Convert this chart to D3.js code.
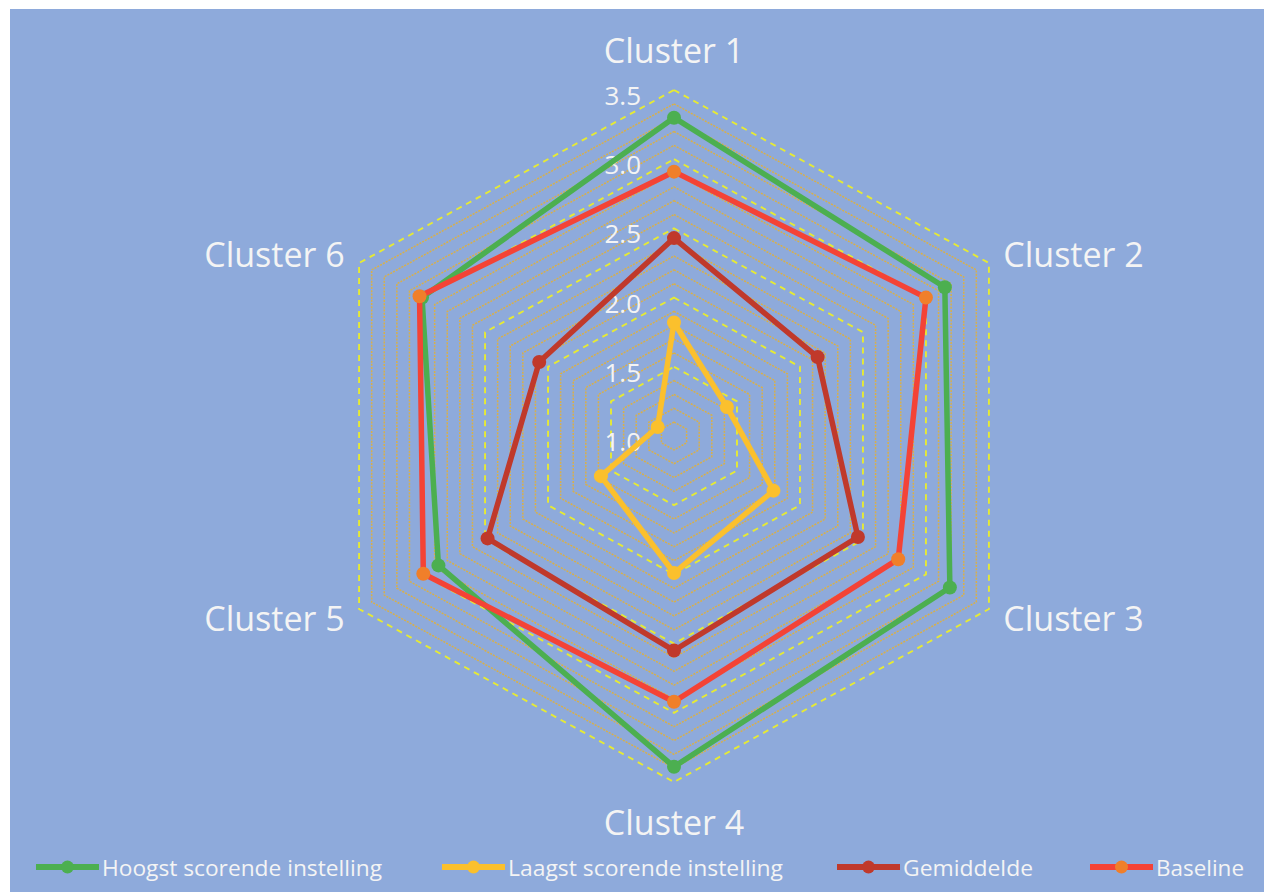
<!DOCTYPE html>
<html><head><meta charset="utf-8">
<script src="https://cdn.jsdelivr.net/npm/d3@7/dist/d3.min.js"></script>
<style>html,body{margin:0;padding:0;background:#fff;}svg{display:block;}</style>
</head><body>
<svg id="chart" width="1264" height="892"></svg>
<script>
const categories = ["Cluster 1", "Cluster 2", "Cluster 3", "Cluster 4", "Cluster 5", "Cluster 6"];
const seriesNames = ["Hoogst scorende instelling", "Laagst scorende instelling", "Gemiddelde", "Baseline"];
const hoogst     = [3.30, 3.15, 3.19, 3.39, 2.87, 3.00];
const laagst     = [1.82, 1.42, 1.79, 1.99, 1.58, 1.13];
const gemiddelde = [2.43, 2.14, 2.46, 2.55, 2.48, 2.07];
const baseline   = [2.91, 3.00, 2.78, 2.92, 2.99, 3.02];
const tickLabels = ["1.0", "1.5", "2.0", "2.5", "3.0", "3.5"];
const axisMin = 1.0, axisMax = 3.5, minorStep = 0.1;

const series = [
  {name: seriesNames[0], values: hoogst,     line: "#4caf50", marker: "#4caf50"},
  {name: seriesNames[1], values: laagst,     line: "#fbc02d", marker: "#fbc02d"},
  {name: seriesNames[2], values: gemiddelde, line: "#c0392b", marker: "#c0392b"},
  {name: seriesNames[3], values: baseline,   line: "#f44336", marker: "#f07f2a"}
];

const svg = d3.select("#chart");
svg.append("rect").attr("x", 10).attr("y", 9).attr("width", 1254).attr("height", 883).attr("fill", "#8eaadb");

const cx = 674, cy = 436, xs = 1.051;
const r = d3.scaleLinear().domain([axisMin, axisMax]).range([0, 346]);
const angle = d3.scalePoint().domain(d3.range(categories.length)).range([0, 2 * Math.PI * (categories.length - 1) / categories.length]);
function pt(i, v) {
  const a = angle(i), rr = r(v);
  return [cx + xs * rr * Math.sin(a), cy - rr * Math.cos(a)];
}
const line = d3.line().curve(d3.curveLinearClosed);

const g = svg.append("g");
// minor grid
const majors = tickLabels.map(Number);
const minors = d3.range(axisMin + minorStep, axisMax, minorStep).map(v => +v.toFixed(2)).filter(v => !majors.some(m => Math.abs(m - v) < 1e-6));
g.selectAll(".minor").data(minors).join("path")
  .attr("d", v => line(categories.map((c, i) => pt(i, v))))
  .attr("fill", "none").attr("stroke", "#d9b04a").attr("stroke-width", 1.5).attr("stroke-dasharray", "2,1.2");
// major grid
g.selectAll(".major").data(majors.filter(v => v > axisMin)).join("path")
  .attr("d", v => line(categories.map((c, i) => pt(i, v))))
  .attr("fill", "none").attr("stroke", "#e6ea34").attr("stroke-width", 1.9).attr("stroke-dasharray", "6,5");

// tick labels
g.selectAll(".tick").data(tickLabels).join("text")
  .attr("x", cx - 33).attr("y", d => cy - r(+d) + 5)
  .attr("text-anchor", "end").attr("dominant-baseline", "central")
  .attr("font-family", "Open Sans, sans-serif").attr("font-size", 26)
  .attr("fill", "#f4f4f4").text(d => d);

// series
series.forEach(s => {
  const pts = s.values.map((v, i) => pt(i, v));
  g.append("path").attr("d", line(pts)).attr("fill", "none")
    .attr("stroke", s.line).attr("stroke-width", 5.5).attr("stroke-linejoin", "round");
  g.selectAll(null).data(pts).join("circle")
    .attr("cx", d => d[0]).attr("cy", d => d[1]).attr("r", 7).attr("fill", s.marker);
});

// category labels
const lblR = r(axisMax);
categories.forEach((c, i) => {
  const a = angle(i);
  const s = Math.sin(a), co = Math.cos(a);
  let x, y, anchor;
  if (Math.abs(s) < 1e-6) {
    x = cx; anchor = "middle";
    y = co > 0 ? cy - lblR - 40 : cy + lblR + 40;
  } else {
    const rr = lblR + 18;
    x = cx + xs * rr * s + (s > 0 ? -2 : 2);
    y = cy - rr * co;
    anchor = s > 0 ? "start" : "end";
  }
  svg.append("text").attr("x", x).attr("y", y)
    .attr("text-anchor", anchor).attr("dominant-baseline", "central")
    .attr("font-family", "Open Sans, sans-serif").attr("font-size", 34)
    .attr("fill", "#f4f4f4").text(c);
});

// legend
const legendX = [36, 442, 837, 1090];
const legendTextW = [280, 275, 130, 88];
const ly = 867;
series.forEach((s, i) => {
  const lg = svg.append("g");
  lg.append("line").attr("x1", legendX[i]).attr("x2", legendX[i] + 63).attr("y1", ly).attr("y2", ly)
    .attr("stroke", s.line).attr("stroke-width", 6);
  lg.append("circle").attr("cx", legendX[i] + 31.5).attr("cy", ly).attr("r", 6.5).attr("fill", s.marker);
  lg.append("text").attr("x", legendX[i] + 66).attr("y", ly + 1)
    .attr("dominant-baseline", "central")
    .attr("font-family", "Open Sans, sans-serif").attr("font-size", 21)
    .attr("textLength", legendTextW[i]).attr("lengthAdjust", "spacingAndGlyphs")
    .attr("fill", "#f4f4f4").text(s.name);
});
</script>
</body></html>
